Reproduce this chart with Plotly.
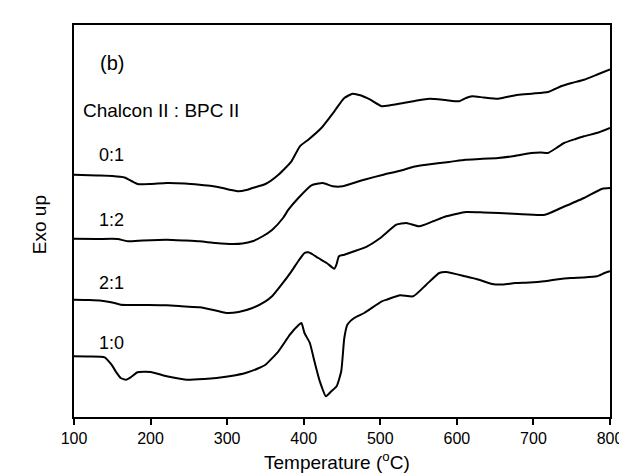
import plotly.graph_objects as go

# Temperature (deg C) and DSC signal (arbitrary units, exo up)
t_01 = [100,130,150,166,175,183,200,221,245,264,280,294,305,315,325,333,350,367,384,395,
        406,423,440,453,464,474,487,502,513,530,545,564,585,603,612,620,635,654,668,680,
        700,719,728,736,750,766,785,800]
v_01 = [24.23,24.15,24.10,23.95,23.60,23.30,23.30,23.40,23.35,23.23,23.10,22.90,22.70,22.57,22.70,22.90,23.30,24.23,25.57,27.07,
        27.73,28.90,30.57,31.90,32.33,32.17,31.73,31.07,31.17,31.40,31.60,31.83,31.70,31.57,31.90,32.07,31.95,31.83,32.05,32.23,
        32.35,32.50,32.80,33.07,33.40,33.73,34.30,34.75]

t_12 = [100,130,157,170,190,221,245,264,285,307,320,333,347,359,373,380,393,410,425,438,
        451,465,479,504,526,545,560,590,611,630,654,675,697,710,719,730,740,755,766,785,800]
v_12 = [17.83,17.80,17.80,17.57,17.65,17.73,17.65,17.57,17.40,17.30,17.35,17.57,18.10,18.73,19.90,20.73,21.90,23.17,23.40,23.07,
        23.07,23.40,23.73,24.23,24.63,25.05,25.23,25.50,25.73,25.80,25.90,26.10,26.40,26.45,26.40,26.90,27.40,27.80,28.07,28.45,28.90]

t_21 = [100,120,136,150,161,190,221,245,264,285,299,315,333,350,359,371,384,393,401,406,
        412,419,430,440,443,446,453,466,483,500,521,534,551,569,586,612,635,655,680,715,
        736,766,790,800]
v_21 = [11.73,11.70,11.63,11.45,11.23,11.20,11.17,11.05,10.97,10.65,10.40,10.50,10.90,11.57,12.10,13.23,14.57,15.60,16.40,16.47,
        16.25,15.90,15.40,14.83,15.30,16.07,16.23,16.57,17.07,17.90,19.23,19.40,19.07,19.57,20.07,20.50,20.45,20.40,20.30,20.23,
        20.90,21.90,22.83,22.90]

t_10 = [100,120,140,149,155,161,168,174,183,200,221,247,270,286,305,324,340,350,367,382,
        393,397,401,408,414,421,429,436,443,449,453,457,466,479,502,509,526,543,560,577,
        586,611,630,646,660,676,695,714,730,749,765,783,793,800]
v_10 = [6.07,6.05,5.97,5.23,4.50,3.90,3.73,3.97,4.47,4.50,4.07,3.73,3.80,3.90,4.10,4.40,4.85,5.23,6.57,8.23,
        9.17,9.40,8.40,7.40,5.57,3.57,2.07,2.57,3.07,4.57,7.90,9.23,9.90,10.40,11.57,11.75,12.17,12.07,13.23,14.40,
        14.50,14.07,13.70,13.30,13.25,13.40,13.45,13.57,13.75,13.90,13.95,14.07,14.40,14.57]

ratio_labels = ["0:1", "1:2", "2:1", "1:0"]
label_y = [26.25, 19.75, 13.4, 7.4]
x_ticks = [100, 200, 300, 400, 500, 600, 700, 800]

FONT = "Arial, Liberation Sans, sans-serif"

fig = go.Figure()
for tx, vy, name in [(t_01, v_01, "0:1"), (t_12, v_12, "1:2"), (t_21, v_21, "2:1"), (t_10, v_10, "1:0")]:
    fig.add_trace(go.Scatter(x=tx, y=vy, mode="lines", name=name,
                             line=dict(color="black", width=2, shape="spline", smoothing=0.5),
                             showlegend=False))

annotations = [
    dict(x=150, y=35.4, xref="x", yref="y", text="(b)", showarrow=False,
         font=dict(size=20, family=FONT, color="black")),
    dict(x=109, y=30.7, xref="x", yref="y", text="Chalcon II : BPC II", showarrow=False,
         xanchor="left", font=dict(size=19, family=FONT, color="black")),
    dict(x=-0.0874, y=0.491, xref="paper", yref="paper", text="Exo up", showarrow=False,
         textangle=-90, font=dict(size=19, family=FONT, color="black")),
    dict(x=0.49, y=-0.112, xref="paper", yref="paper", text="Temperature (<sup>o</sup>C)",
         showarrow=False, yanchor="middle", font=dict(size=19, family=FONT, color="black")),
]
for lab, ly in zip(ratio_labels, label_y):
    annotations.append(dict(x=149, y=ly, xref="x", yref="y", text=lab, showarrow=False,
                            font=dict(size=18, family=FONT, color="black")))

fig.update_layout(
    width=627, height=475,
    margin=dict(l=66, r=17.5, t=17, b=66),
    paper_bgcolor="white", plot_bgcolor="white",
    font=dict(family=FONT, color="black"),
    annotations=annotations,
    xaxis=dict(range=[100, 800], tickvals=x_ticks, ticktext=[str(v) for v in x_ticks],
               showgrid=False, zeroline=False, showline=True, linecolor="black", linewidth=2,
               mirror=True, ticks="outside", ticklen=6, tickwidth=2, tickcolor="black",
               tickfont=dict(size=16, family=FONT, color="black")),
    yaxis=dict(range=[0, 39.2], showgrid=False, zeroline=False, showline=True,
               linecolor="black", linewidth=2, mirror=True, showticklabels=False, ticks=""),
)

fig.write_html("out.html")
